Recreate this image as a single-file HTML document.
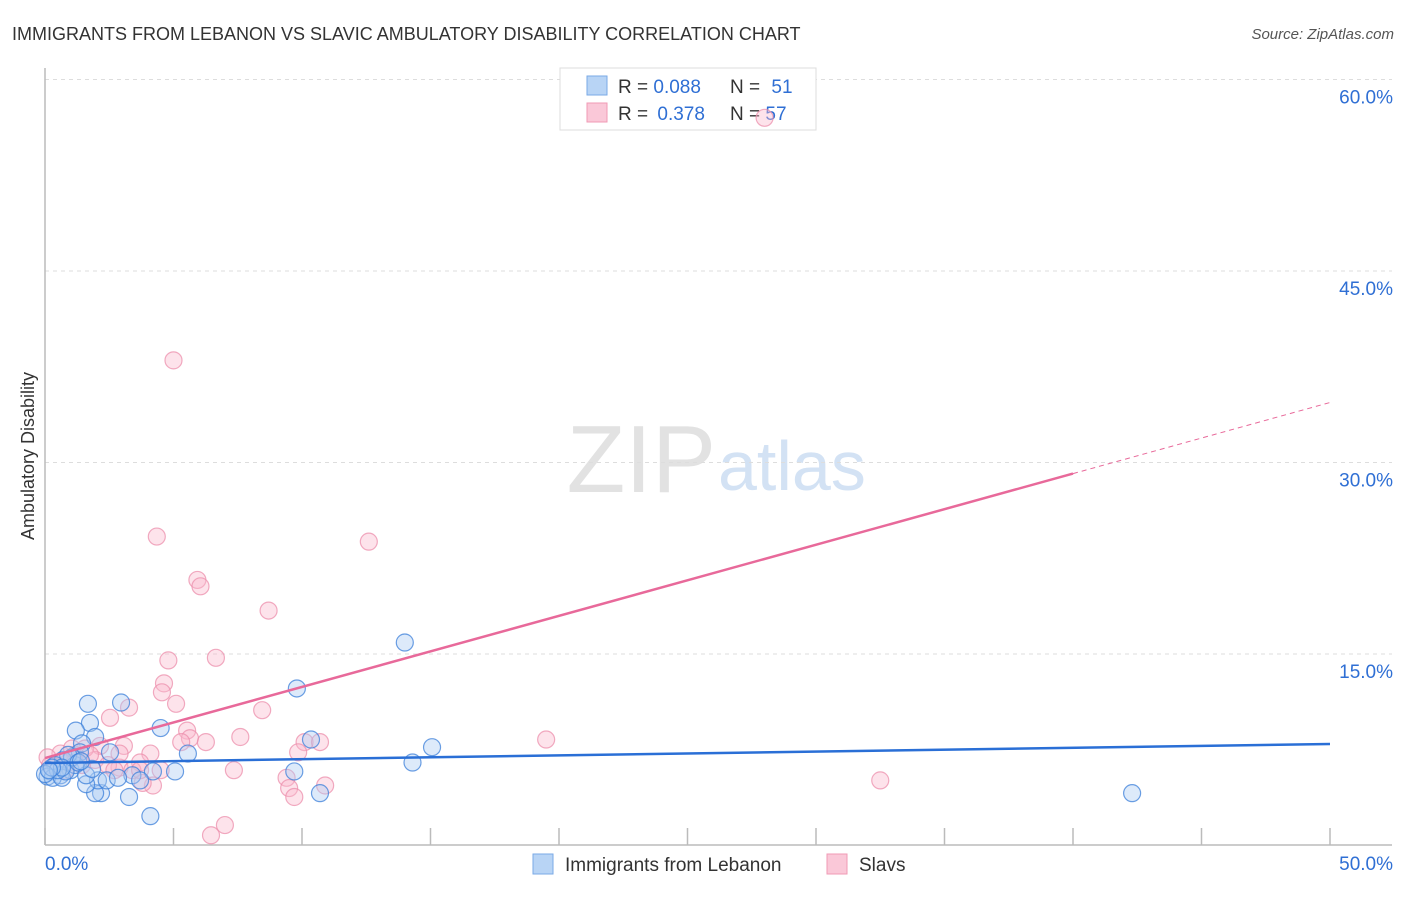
<!DOCTYPE html>
<html><head><meta charset="utf-8"><style>
body{margin:0;background:#fff;font-family:"Liberation Sans",sans-serif;}
svg text{font-family:"Liberation Sans",sans-serif;}
</style></head><body>
<svg id="chart" width="1406" height="892">
<text x="12" y="40" font-size="18" fill="#333">IMMIGRANTS FROM LEBANON VS SLAVIC AMBULATORY DISABILITY CORRELATION CHART</text>
<text x="1394" y="39" font-size="15" fill="#555" font-style="italic" text-anchor="end">Source: ZipAtlas.com</text>
<text x="716" y="492" font-size="96" fill="#e2e2e2" text-anchor="end" font-family="Liberation Serif">ZIP</text>
<text x="718" y="490" font-size="70" fill="#d3e2f4">atlas</text>
<text transform="translate(34,456) rotate(-90)" font-size="18" fill="#333" text-anchor="middle">Ambulatory Disability</text>
<g id="grid"></g>
<g>
<rect x="560" y="68" width="256" height="62" fill="#fff" stroke="#ddd"/>
<rect x="587" y="76" width="20" height="19" fill="#b8d4f5" stroke="#7aaae6"/>
<rect x="587" y="103" width="20" height="19" fill="#fac8d8" stroke="#f09ab5"/>
<text x="618" y="93" font-size="19" fill="#333">R = <tspan fill="#2f6fd4">0.088</tspan></text>
<text x="730" y="93" font-size="19" fill="#333">N = <tspan fill="#2f6fd4" dx="6">51</tspan></text>
<text x="618" y="120" font-size="19" fill="#333">R = <tspan fill="#2f6fd4" dx="4">0.378</tspan></text>
<text x="730" y="120" font-size="19" fill="#333">N = <tspan fill="#2f6fd4">57</tspan></text>
</g>
<g id="pts"></g><g id="lines"></g>
<g>
<rect x="533" y="854" width="20" height="20" fill="#b8d4f5" stroke="#7aaae6"/>
<text x="565" y="871" font-size="19" fill="#333">Immigrants from Lebanon</text>
<rect x="827" y="854" width="20" height="20" fill="#fac8d8" stroke="#f09ab5"/>
<text x="859" y="871" font-size="19" fill="#333">Slavs</text>
</g>
</svg>
<script>
const yTicks=[15,30,45,60];
const yTickLabels=["15.0%","30.0%","45.0%","60.0%"];
const xTicks=[0,5,10,15,20,25,30,35,40,45,50];
const xEndLabels=["0.0%","50.0%"];
const blueX=[14.0,9.8,2.96,1.67,1.75,1.2,4.5,10.35,15.06,42.3,14.3,9.7,10.7,5.56,5.06,4.1,3.27,2.18,1.95,2.06,1.6,4.2,3.4,2.53,1.95,1.44,1.36,0.7,0.4,0.2,0.6,1.0,1.17,0.1,0.3,0.66,0.8,1.05,0.9,0.5,0,1.6,1.3,2.4,3.7,0.66,0.27,1.83,2.84,0.15,1.4];
const blueY=[15.9,12.3,11.2,11.1,9.6,9.0,9.2,8.3,7.7,4.1,6.5,5.8,4.1,7.2,5.8,2.3,3.8,4.1,4.1,5.1,4.8,5.8,5.5,7.3,8.5,8.0,7.3,6.7,6.3,5.8,5.5,5.9,6.3,5.4,5.3,5.3,5.8,6.9,7.1,5.9,5.6,5.5,6.5,5.1,5.1,6.1,6.1,6.0,5.3,5.9,6.6];
const pinkX=[28.0,5.0,4.35,12.6,5.93,6.05,8.7,4.8,6.65,4.63,4.55,5.1,8.45,3.27,2.53,5.53,5.64,5.3,6.26,7.6,10.1,10.7,19.5,9.85,3.07,4.1,3.7,2.9,7.35,9.4,10.9,9.5,9.7,32.5,4.2,3.8,3.4,7.0,6.46,2.14,1.95,1.56,1.17,0.6,0.1,0.4,0.9,1.44,2.45,2.9,1.75,0.78,0.2,2.7,3.7,1.05,4.5];
const pinkY=[57.0,38.0,24.2,23.8,20.8,20.3,18.4,14.5,14.7,12.7,12.0,11.1,10.6,10.8,10.0,9.0,8.4,8.1,8.1,8.5,8.1,8.1,8.3,7.3,7.8,7.2,6.5,6.1,5.9,5.3,4.7,4.5,3.8,5.1,4.7,4.9,5.9,1.6,0.8,7.8,6.7,7.6,7.1,7.2,6.9,6.2,6.5,6.3,6.3,7.2,7.1,5.9,6.3,5.9,5.9,7.6,5.9];
const blueTrend=[6.46,7.95];
const pinkTrend=[6.85,34.7];
const pinkSolidEnd=40;
const NS="http://www.w3.org/2000/svg";
const X=v=>45+v*(1285/50);
const Y=v=>845.5-v*(766/60);
function mk(tag,attrs,parent){const e=document.createElementNS(NS,tag);for(const k in attrs)e.setAttribute(k,attrs[k]);document.getElementById(parent).appendChild(e);return e;}
yTicks.forEach((t,i)=>{
 const g=mk('line',{x1:45,x2:1392,y1:Y(t),y2:Y(t),stroke:'#ddd','stroke-dasharray':'4,4'},'grid');
 
 
 const l=mk('text',{x:1393,y:Y(t)+24,'font-size':19,fill:'#2f6fd4','text-anchor':'end'},'grid');
 l.textContent=yTickLabels[i];
 
 
});
const ax=mk('line',{x1:45,x2:45,y1:68,y2:845,stroke:'#bbb','stroke-width':1.5},'grid');


const bx=mk('line',{x1:45,x2:1392,y1:845,y2:845,stroke:'#bbb','stroke-width':1.5},'grid');


xTicks.forEach(t=>{
 const e=mk('line',{x1:X(t),x2:X(t),y1:828,y2:845,stroke:'#bbb','stroke-width':1.5},'grid');
 
 
});
[[0,'start'],[50,'end']].forEach((p,i)=>{
 const t=mk('text',{x:i?1393:45,y:870,'font-size':19,fill:'#2f6fd4','text-anchor':p[1]},'grid');
 t.textContent=xEndLabels[i];
 
 
});
function dots(xs,ys,fill,stroke,name){xs.forEach((x,i)=>{
 const c=mk('circle',{cx:X(x),cy:Y(ys[i]),r:8.5,fill:fill,'fill-opacity':0.4,stroke:stroke,'stroke-width':1.2,'stroke-opacity':0.75},'pts');
 
 
});}
dots(pinkX,pinkY,'#f9b9cc','#ec8fac','slavs-point');
dots(blueX,blueY,'#a9cbf2','#3b7fd9','lebanon-point');
const bl=mk('line',{x1:X(0),y1:Y(blueTrend[0]),x2:X(50),y2:Y(blueTrend[1]),stroke:'#2a6fd6','stroke-width':2.5},'lines');


const py=x=>pinkTrend[0]+(pinkTrend[1]-pinkTrend[0])*x/50;
const pl=mk('line',{x1:X(0),y1:Y(py(0)),x2:X(pinkSolidEnd),y2:Y(py(pinkSolidEnd)),stroke:'#e8699a','stroke-width':2.5},'lines');


const pd=mk('line',{x1:X(pinkSolidEnd),y1:Y(py(pinkSolidEnd)),x2:X(50),y2:Y(py(50)),stroke:'#e8699a','stroke-width':1,'stroke-dasharray':'5,4'},'lines');


</script>
</body></html>
